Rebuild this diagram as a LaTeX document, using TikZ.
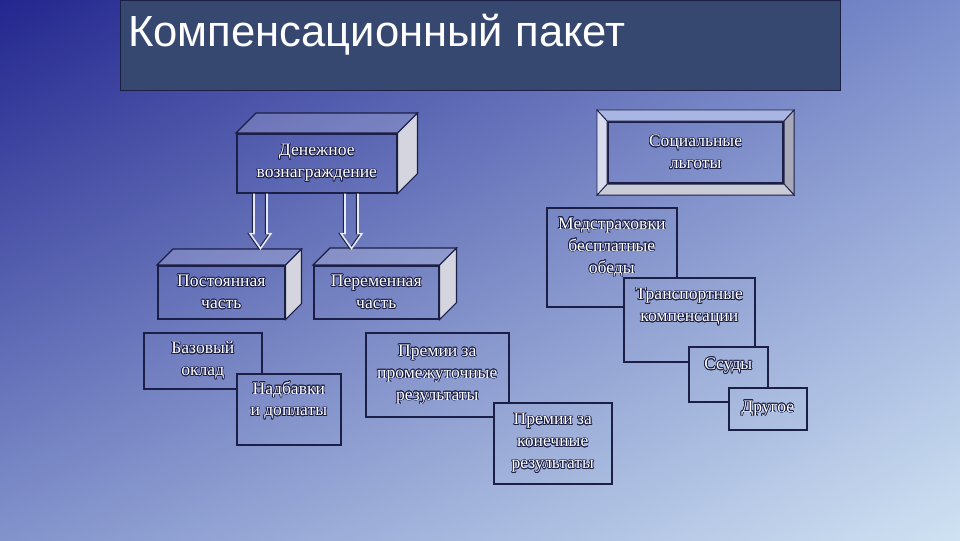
\documentclass[tikz,border=0pt]{standalone}
\usepackage{fontspec}
\setmainfont{Liberation Serif}
\newfontfamily\titlefont{Liberation Sans}
\usepackage[copies]{contour}
\contourlength{0.5pt}
\contournumber{16}
\usetikzlibrary{calc, shadows, shadings}
\definecolor{bgul}{HTML}{23268E}
\definecolor{bgur}{HTML}{7B8DCC}
\definecolor{bgll}{HTML}{8293CC}
\definecolor{bglr}{HTML}{CFE2F2}
\definecolor{cedge}{HTML}{1C1F45}
\definecolor{ctitle}{HTML}{364870}
\definecolor{cside}{HTML}{D4D5DE}
\definecolor{bvtop}{HTML}{A9B5E2}
\definecolor{bvleft}{HTML}{D9DCEC}
\definecolor{bvright}{HTML}{A7A9B8}
\definecolor{bvbottom}{HTML}{C9CBD6}
\definecolor{carrow}{HTML}{E6E9F6}
\newcommand\outl[1]{\contour{cedge}{#1}}
\tikzset{
  every picture/.style={x=0.025cm, y=0.025cm},
  bgshade/.style={upper left=bgul, upper right=bgur, lower left=bgll, lower right=bglr},
  dims/.style 2 args={minimum width=#1*0.025cm, minimum height=#2*0.025cm},
  face/.style={draw=cedge, line width=1.1pt, anchor=north west, inner sep=0pt, align=center, text=white,
               font=\fontsize{12.5}{15.6}\selectfont, path picture={\shade[bgshade] (bgnw) rectangle (bgse);}},
  card/.style={face, drop shadow={shadow xshift=1.2pt, shadow yshift=-1.2pt, fill=gray!70, opacity=0.8}},
  lift/.style={text depth=#1},
  topface/.style={draw=cedge, line width=0.8pt, fill=white, fill opacity=0.18},
  sideface/.style={draw=cedge, line width=0.8pt, fill=cside},
  bevel/.style={draw=cedge, line width=0.6pt},
  hollow/.style={draw=carrow, line width=1.1pt, preaction={draw=cedge, line width=1.1pt, transform canvas={xshift=-1pt}}},
}
\begin{document}
\begin{tikzpicture}
  \coordinate (bgnw) at (0,0);
  \coordinate (bgse) at (960,-540);
  \useasboundingbox (bgnw) rectangle (bgse);
  \shade[bgshade] (bgnw) rectangle (bgse);
  % title bar
  \node[draw=cedge, fill=ctitle, line width=0.8pt, anchor=north west, dims={720}{90}] (titlebar) at (120,0) {};
  \node[anchor=base west, inner sep=0pt, text=white, font=\titlefont\fontsize{31}{36}\selectfont] (title)
    at ([shift={(8,-46)}]titlebar.north west) {Компенсационный пакет};
  % money part, drawn as slabs
  \node[face, dims={160}{59}] (money) at (236,-133) {\outl{Денежное}\\\outl{вознаграждение}};
  \node[face, dims={127}{53}] (fixed) at (157,-265) {\outl{Постоянная}\\\outl{часть}};
  \node[face, dims={125}{53}] (var) at (313,-265) {\outl{Переменная}\\\outl{часть}};
  \foreach \n/\d in {money/20, fixed/16, var/17} {
    \draw[topface] (\n.north west) -- ++(\d,\d) -- ($(\n.north east)+(\d,\d)$) -- (\n.north east) -- cycle;
    \draw[sideface] (\n.north east) -- ++(\d,\d) -- ($(\n.south east)+(\d,\d)$) -- (\n.south east) -- cycle;
  }
  \coordinate (a1) at (254,0);
  \coordinate (a2) at (345,0);
  \foreach \a in {a1, a2}
    \draw[hollow] (money.south -| \a) -- ++(0,-40) -- ++(-4,0) -- ++(10.5,-15) -- ++(10.5,15) -- ++(-4,0) -- ++(0,40);
  % social benefits
  \node[face, line width=1.5pt, dims={175}{61}] (social) at (607,-121) {\outl{Социальные}\\\outl{льготы}};
  \foreach \a/\b/\ax/\ay/\bx/\by/\c in {north west/north east/-10/11/10/11/bvtop, north east/south east/10/11/10/-11/bvright,
                                      south east/south west/10/-11/-10/-11/bvbottom, south west/north west/-10/-11/-10/11/bvleft}
    \draw[bevel, fill=\c] (social.\a) -- ($(social.\a)+(\ax,\ay)$) -- ($(social.\b)+(\bx,\by)$) -- (social.\b) -- cycle;
  \node[card, lift=17pt, dims={130}{99}] (med) at (546,-207) {\outl{Медстраховки}\\\outl{бесплатные}\\\outl{обеды}};
  \node[card, lift=21pt, dims={131}{84}] (trans) at (623,-277) {\outl{Транспортные}\\\outl{компенсации}};
  \node[card, lift=15pt, dims={79}{55}] (loan) at (688,-346) {\outl{Ссуды}};
  \node[card, dims={78}{42}] (other) at (728,-387) {\outl{Другое}};
  % fixed and variable items
  \node[card, dims={118}{56}] (base) at (143,-332) {\outl{Базовый}\\\outl{оклад}};
  \node[card, lift=15pt, dims={104}{71}] (extra) at (236,-373) {\outl{Надбавки}\\\outl{и доплаты}};
  \node[card, dims={143}{84}] (prem1) at (365,-332) {\outl{Премии за}\\\outl{промежуточные}\\\outl{результаты}};
  \node[card, dims={118}{81}] (prem2) at (493,-402) {\outl{Премии за}\\\outl{конечные}\\\outl{результаты}};
\end{tikzpicture}
\end{document}
